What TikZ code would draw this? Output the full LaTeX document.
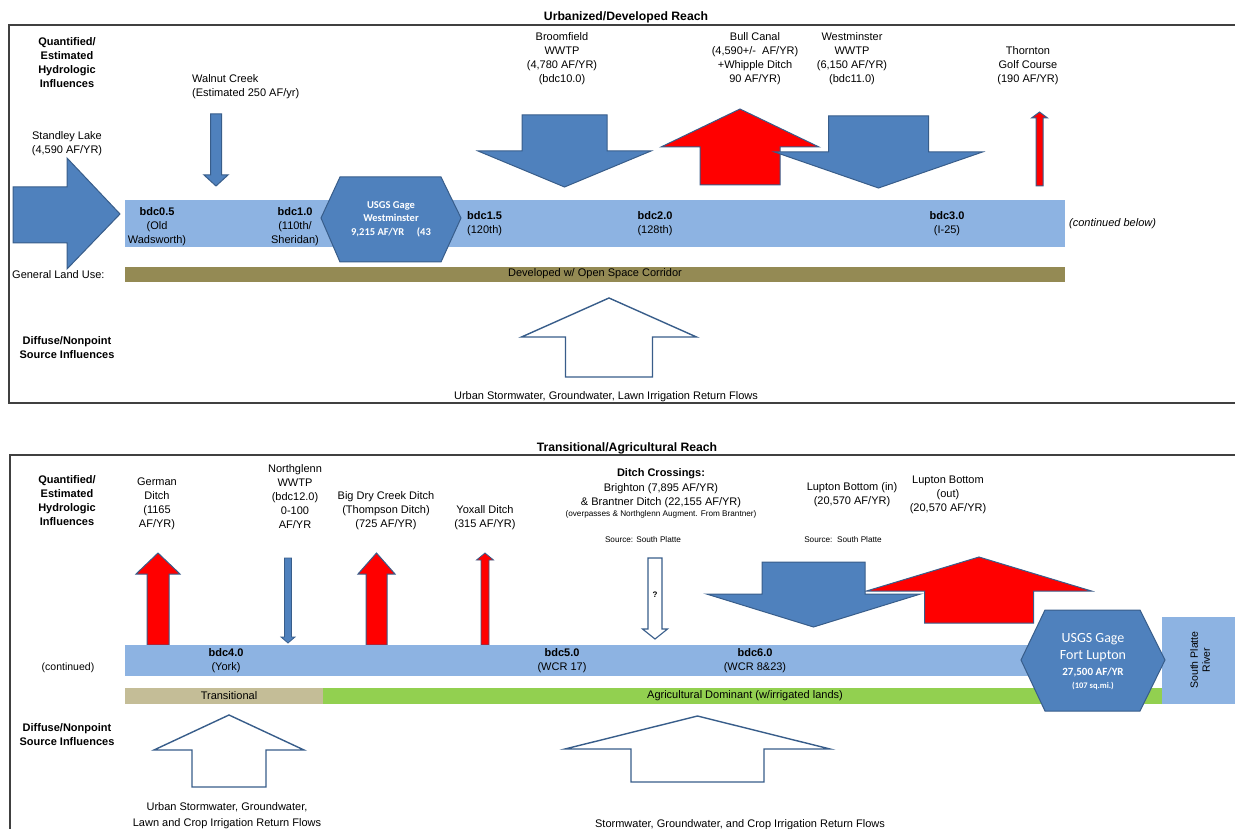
\documentclass[tikz,border=0pt]{standalone}
\usepackage{fontspec}
\setmainfont{Liberation Sans}
\newfontfamily\gagefont{Carlito}
\usepackage{tikz}

\definecolor{arrblue}{HTML}{4F81BD}
\definecolor{arrline}{HTML}{385D8A}
\definecolor{riverblue}{HTML}{8DB3E2}
\definecolor{landolive}{HTML}{948A54}
\definecolor{landtan}{HTML}{C4BD97}
\definecolor{landgreen}{HTML}{92D050}
\definecolor{framegray}{HTML}{404040}

% block arrow: style, centre x, half shaft, half head, shaft end y, head base y, tip y
\newcommand{\blockarrow}[7]{%
	\draw[#1] ({#2-#3},#5) -- ({#2+#3},#5) -- ({#2+#3},#6) -- ({#2+#4},#6) -- (#2,#7) -- ({#2-#4},#6) -- ({#2-#3},#6) -- cycle;}

\begin{document}
\begin{tikzpicture}[x=1pt, y=-1pt]
	\tikzstyle{lbl} = [inner sep=0pt, align=center, font=\fontsize{11}{14}\selectfont]
	\tikzstyle{hdr} = [lbl, font=\bfseries\fontsize{11}{14}\selectfont]
	\tikzstyle{title} = [lbl, font=\bfseries\fontsize{12.2}{14}\selectfont]
	\tikzstyle{smalllbl} = [lbl, font=\fontsize{11}{16}\selectfont]
	\tikzstyle{tiny} = [inner sep=0pt, align=center, font=\fontsize{8.2}{9}\selectfont]
	\tikzstyle{bluearr} = [fill=arrblue, draw=arrline, line width=1pt]
	\tikzstyle{redarr} = [fill=red, draw=arrline, line width=1pt]
	\tikzstyle{openarr} = [fill=white, draw=arrline, line width=1.4pt]
	\tikzstyle{gage} = [fill=arrblue, draw=arrline, line width=1pt]
	\tikzstyle{gagetext} = [inner sep=0pt, align=center, text=white, font=\gagefont\bfseries\fontsize{10.5}{13.5}\selectfont]
	\tikzstyle{panel} = [draw=framegray, line width=1.2pt]

	\useasboundingbox (0,0) rectangle (1235,829);

	% ---------- upper panel ----------
	\draw (626,17) node[title] (urbtitle) {Urbanized/Developed Reach};
	\draw[panel] (1235,25) -- (9,25) -- (9,403) -- (1235,403);

	\draw (67,63) node[hdr] (quant1) {Quantified/\\Estimated\\Hydrologic\\Influences};
	\draw (67,144) node[lbl] (standley) {Standley Lake\\(4,590 AF/YR)};
	\draw[bluearr] (13,187) -- (67,187) -- (67,158) -- (120,214) -- (67,269) -- (67,243) -- (13,243) -- cycle;

	\draw (192,87) node[lbl, anchor=west, align=left] (walnut) {Walnut Creek\\(Estimated 250 AF/yr)};
	\blockarrow{bluearr}{216}{5.5}{12}{114}{175}{186}

	\fill[riverblue] (125,200) rectangle (1065,247);
	\fill[landolive] (125,267) rectangle (1065,282);
	\draw (595,274) node[lbl] (landuse1) {Developed w/ Open Space Corridor};
	\draw (12,275) node[lbl, anchor=west] (genland) {General Land Use:};

	\draw (157,227) node[lbl] (bdc05) {\textbf{bdc0.5}\\(Old\\Wadsworth)};
	\draw (295,227) node[lbl] (bdc10) {\textbf{bdc1.0}\\(110th/\\Sheridan)};
	\draw (467,224) node[lbl, anchor=west, align=left] (bdc15) {\textbf{bdc1.5}\\(120th)};
	\draw (655,224) node[lbl] (bdc20) {\textbf{bdc2.0}\\(128th)};
	\draw (947,224) node[lbl] (bdc30) {\textbf{bdc3.0}\\(I-25)};
	\draw (1069,224) node[lbl, anchor=west, font=\itshape\fontsize{11}{14}\selectfont] (contbelow) {(continued below)};

	\draw[gage] (321,218) -- (340,177) -- (441,177) -- (461,218) -- (441,262) -- (340,262) -- cycle;
	\draw (391,219) node[gagetext] (gagewest) {USGS Gage\\Westminster\\9,215 AF/YR\hspace{1.2em}(43};

	\draw (562,59) node[lbl] (broomfield) {Broomfield\\WWTP\\(4,780 AF/YR)\\(bdc10.0)};
	\blockarrow{bluearr}{564.5}{42.5}{86.5}{115}{151}{187}

	\draw (755,59) node[lbl] (bullcanal) {Bull Canal\\(4,590+/-\ \ AF/YR)\\+Whipple Ditch\\90 AF/YR)};
	\blockarrow{redarr}{740}{40}{79}{185}{147}{109}

	\draw (852,59) node[lbl] (westwwtp) {Westminster\\WWTP\\(6,150 AF/YR)\\(bdc11.0)};
	\blockarrow{bluearr}{878.5}{50}{104}{116}{152}{188}

	\draw (1028,66) node[lbl] (thornton) {Thornton\\Golf Course\\(190 AF/YR)};
	\blockarrow{redarr}{1039.5}{3.5}{8}{186}{118}{112}

	\draw (67,348) node[hdr] (diffuse1) {Diffuse/Nonpoint\\Source Influences};
	\blockarrow{openarr}{609}{43.5}{87.5}{377}{337}{298}
	\draw (606,397) node[smalllbl] (urbflows) {Urban Stormwater, Groundwater, Lawn Irrigation Return Flows};

	% ---------- lower panel ----------
	\draw (627,448) node[title] (agtitle) {Transitional/Agricultural Reach};
	\draw[panel] (1235,455) -- (10,455) -- (10,829);

	\draw (67,500.5) node[hdr] (quant2) {Quantified/\\Estimated\\Hydrologic\\Influences};

	\draw (157,503.5) node[lbl] (german) {German\\Ditch\\(1165\\AF/YR)};
	\blockarrow{redarr}{158}{11}{22}{645}{574}{553}

	\draw (295,496.5) node[lbl] (northglenn) {Northglenn\\WWTP\\(bdc12.0)\\0-100\\AF/YR};
	\blockarrow{bluearr, line width=0.8pt}{288}{3.5}{7}{558}{637}{643}

	\draw (386,511) node[lbl] (bigdry) {Big Dry Creek Ditch\\(Thompson Ditch)\\(725 AF/YR)};
	\blockarrow{redarr}{376.5}{10.5}{18.5}{645}{574}{553}

	\draw (485,518) node[lbl] (yoxall) {Yoxall Ditch\\(315 AF/YR)};
	\blockarrow{redarr, line width=0.8pt}{485}{4}{8.5}{645}{560}{553}

	\draw (661,474) node[hdr] (ditchhd) {Ditch Crossings:};
	\draw (661,496) node[lbl] (brighton) {Brighton (7,895 AF/YR)\\\& Brantner Ditch (22,155 AF/YR)};
	\draw (661,514) node[tiny] (overpass) {(overpasses \& Northglenn Augment. From Brantner)};
	\draw (643,540) node[tiny] (source1) {Source: South Platte};
	\blockarrow{openarr, line width=1.1pt}{655}{7}{12.5}{558}{629}{639}
	\draw (655,595) node[tiny, font=\bfseries\fontsize{8}{9}\selectfont] (query) {?};

	\draw (852,494.5) node[lbl] (luptonin) {Lupton Bottom (in)\\(20,570 AF/YR)};
	\draw (843,540) node[tiny] (source2) {Source:\ \ South Platte};
	\draw (948,494.5) node[lbl] (luptonout) {Lupton Bottom\\(out)\\(20,570 AF/YR)};
	\blockarrow{redarr}{979}{54.5}{112.5}{623}{591}{557}
	\blockarrow{bluearr}{813.5}{51.5}{107}{562}{594}{627}

	\fill[riverblue] (125,645) rectangle (1045,676);
	\draw (226,660.5) node[lbl] (bdc40) {\textbf{bdc4.0}\\(York)};
	\draw (562,660.5) node[lbl] (bdc50) {\textbf{bdc5.0}\\(WCR 17)};
	\draw (755,660.5) node[lbl] (bdc60) {\textbf{bdc6.0}\\(WCR 8\&23)};
	\draw (68,668) node[lbl, font=\fontsize{10.5}{14}\selectfont] (contd) {(continued)};

	\fill[landtan] (125,688) rectangle (323,704);
	\fill[landgreen] (323,688) rectangle (1162,704);
	\draw (229,696) node[smalllbl] (transit) {Transitional};
	\draw (745,696) node[smalllbl] (agridom) {Agricultural Dominant (w/irrigated lands)};

	\fill[riverblue] (1162,617) rectangle (1235,704);
	\draw (1200,660) node[smalllbl, rotate=90, font=\fontsize{10.5}{12}\selectfont] (splatte) {South Platte\\River};

	\draw[gage] (1021,660) -- (1045,610) -- (1140,610) -- (1165,660) -- (1140,711) -- (1045,711) -- cycle;
	\draw (1093,647.5) node[gagetext, font=\gagefont\fontsize{14}{17}\selectfont] (gagelupton) {USGS Gage\\Fort Lupton};
	\draw (1093,672) node[gagetext, font=\gagefont\bfseries\fontsize{11}{13}\selectfont] (luptonflow) {27,500 AF/YR};
	\draw (1093,686) node[gagetext, font=\gagefont\bfseries\fontsize{8.5}{10}\selectfont] (luptonarea) {(107 sq.mi.)};

	\draw (67,734.5) node[hdr] (diffuse2) {Diffuse/Nonpoint\\Source Influences};
	\blockarrow{openarr}{229}{37}{75}{787}{750}{715}
	\draw (227,816) node[smalllbl] (transflows) {Urban Stormwater, Groundwater,\\Lawn and Crop Irrigation Return Flows};
	\blockarrow{openarr}{697.5}{66.5}{132.5}{782}{749}{716}
	\draw (740,825) node[smalllbl] (agflows) {Stormwater, Groundwater, and Crop Irrigation Return Flows};
\end{tikzpicture}
\end{document}
